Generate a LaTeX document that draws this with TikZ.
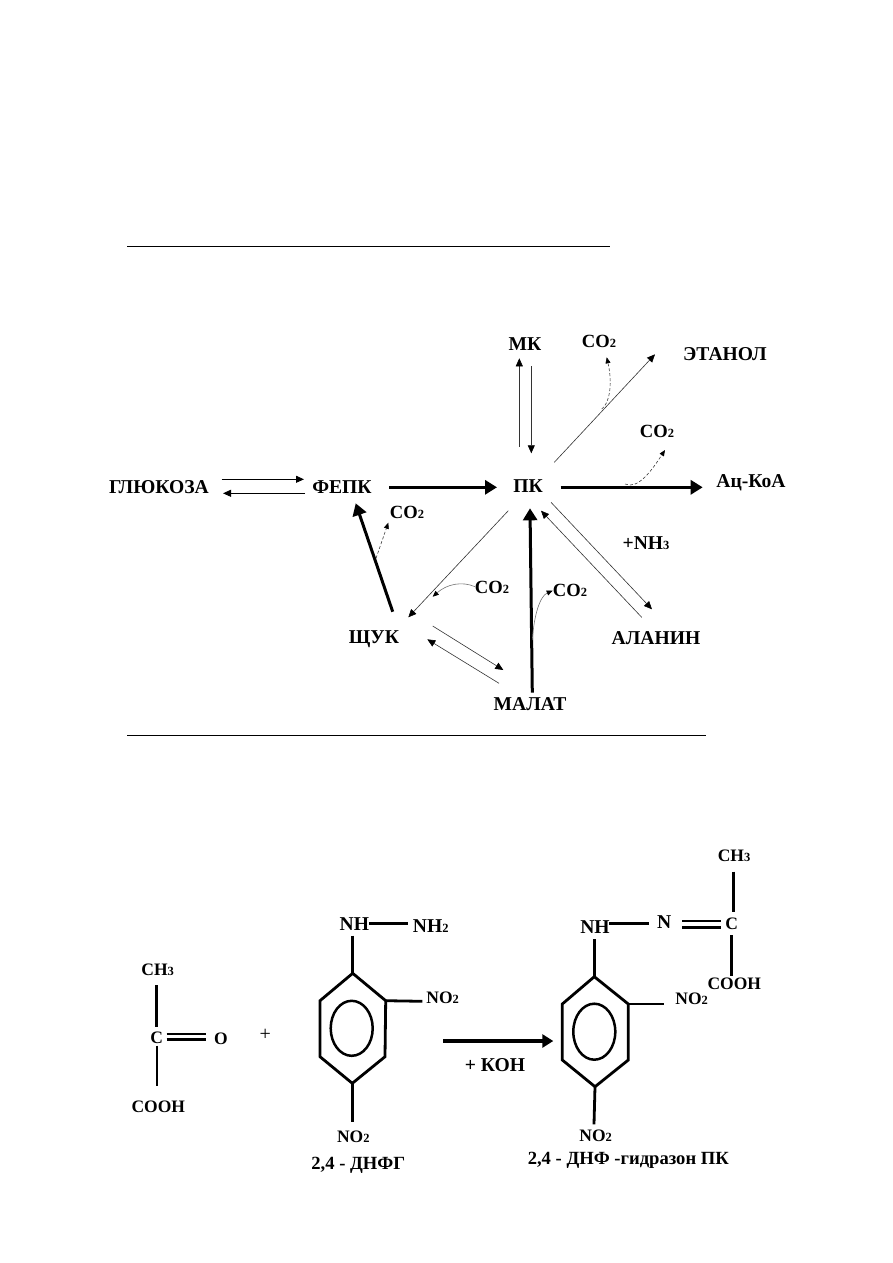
\documentclass[tikz,border=0pt]{standalone}
\usepackage{fontspec}
\setmainfont{Liberation Serif}
\usetikzlibrary{arrows.meta,shapes.geometric}
\newcommand{\smd}[1]{{\fontsize{12.5}{13}\selectfont #1}}
\tikzset{
 lab/.style={inner sep=0pt,font=\fontsize{19.6}{20}\selectfont\bfseries},
 coc/.style={inner sep=0pt,font=\fontsize{18.6}{20}\selectfont\bfseries},
 chem/.style={inner sep=0pt,font=\fontsize{17.5}{19}\selectfont\bfseries},
 thinarr/.style={line width=0.9pt,-{Triangle[length=8pt,width=7pt]}},
 hairarr/.style={line width=0.6pt,black!80,-{Triangle[length=8pt,width=7pt,color=black]}},
 thickarr/.style={line width=3pt,-{Triangle[length=12pt,width=14pt]}},
 medarr/.style={line width=3.2pt,-{Triangle[length=11pt,width=13pt]}},
 curvearr/.style={line width=0.6pt,black!75,densely dashed,-{Triangle[length=6pt,width=5pt,color=black]}},
 curvesolid/.style={line width=0.6pt,black!55,-{Triangle[length=6pt,width=5pt,color=black]}},
 bond/.style={line width=2.8pt},
 rulebar/.style={line width=1pt},
 ringline/.style={line width=2.8pt,line join=miter},
 ringoval/.style={draw,ellipse,line width=2.5pt,inner sep=0pt},
}
\begin{document}
\begin{tikzpicture}[x=1pt,y=-1pt]
\useasboundingbox (0,0) rectangle (893,1263);
% rules
\coordinate (r1a) at (127,246); \coordinate (r1b) at (610,246);
\coordinate (r2a) at (127,735); \coordinate (r2b) at (706,735);
\draw[rulebar] (r1a) -- (r1b);
\draw[rulebar] (r2a) -- (r2b);
% scheme nodes
\node[lab] (glu) at (159,487) {ГЛЮКОЗА};
\node[lab] (fepk) at (342,487) {ФЕПК};
\node[lab] (pk) at (528,486) {ПК};
\node[lab] (mk) at (525,344) {МК};
\node[lab] (etoh) at (725,354) {ЭТАНОЛ};
\node[lab] (ac) at (751,483) {Ац-КоА};
\node[lab] (ala) at (656,638) {АЛАНИН};
\node[lab] (mal) at (530,704) {МАЛАТ};
\node[lab] (shuk) at (374,639) {ЩУК};
\node[coc] (co2a) at (599,341) {CO\smd{2}};
\node[coc] (co2b) at (657,431) {CO\smd{2}};
\node[coc] (co2c) at (407,512) {CO\smd{2}};
\node[coc] (co2d) at (492,587) {CO\smd{2}};
\node[coc] (co2e) at (570,590) {CO\smd{2}};
\node[lab] (nh3) at (646,543) {+NH\smd{3}};
% scheme connectors
\draw[thinarr] ([shift={(62.7,-7.7)}]glu.center) -- ([shift={(-38,-7.7)}]fepk.center);
\draw[thinarr] ([shift={(-37,6.3)}]fepk.center) -- ([shift={(64,6.3)}]glu.center);
\draw[thickarr] ([shift={(47,0.3)}]fepk.center) -- ([shift={(-31,1.3)}]pk.center);
\draw[thickarr] ([shift={(32.7,1.3)}]pk.center) -- ([shift={(-48.3,4.3)}]ac.center);
\draw[hairarr] ([shift={(-8.7,-39.3)}]pk.center) -- ([shift={(-5.7,14.3)}]mk.center);
\draw[hairarr] ([shift={(6.3,22)}]mk.center) -- ([shift={(3.3,-32.7)}]pk.center);
\draw[hairarr] ([shift={(26.3,-23.7)}]pk.center) -- ([shift={(-70,0.3)}]etoh.center);
\draw[hairarr] ([shift={(23,16.3)}]pk.center) -- ([shift={(-4,-28.7)}]ala.center);
\draw[hairarr] ([shift={(-14.3,-20.7)}]ala.center) -- ([shift={(13,24.7)}]pk.center);
\draw[thickarr] ([shift={(2.3,-11.3)}]mal.center) -- ([shift={(2,22.3)}]pk.center);
\draw[hairarr] ([shift={(-19.7,24.7)}]pk.center) -- ([shift={(34.3,-21.7)}]shuk.center);
\draw[thickarr] ([shift={(18.7,-27.3)}]shuk.center) -- ([shift={(13.7,16.3)}]fepk.center);
\draw[hairarr] ([shift={(58.7,-13)}]shuk.center) -- ([shift={(-26.7,-34)}]mal.center);
\draw[hairarr] ([shift={(-31,-20.7)}]mal.center) -- ([shift={(53.3,0.3)}]shuk.center);
% branch curves
\coordinate (tapa) at (601.7,409);
\coordinate (tapb) at (625,484);
\coordinate (tapc) at (376,558.3);
\coordinate (tapd) at (432.7,596.7);
\coordinate (tape) at (532.3,640);
\draw[curvearr] (tapa) .. controls (609,404) and (613,385) .. ([shift={(7.7,16.3)}]co2a.center);
\draw[curvearr] (tapb) .. controls (638,490) and (652,470) .. ([shift={(8,19)}]co2b.center);
\draw[curvearr] (tapc) -- ([shift={(-18.7,10.7)}]co2c.center);
\draw[curvesolid] ([shift={(-17,-0.3)}]co2d.center) .. controls (462,581) and (447,584) .. (tapd);
\draw[curvesolid] (tape) .. controls (534,615) and (540,596) .. ([shift={(-17.3,0.7)}]co2e.center);
% left reactant
\node[chem] (ch3a) at (157.7,969.3) {CH\smd{3}};
\node[chem] (ca) at (156.7,1037.3) {C};
\node[chem] (oa) at (221,1038.7) {O};
\node[chem] (cooha) at (158.3,1106.7) {COOH};
\node[inner sep=0pt,font=\fontsize{20}{20}\selectfont] (plus) at (265.3,1035) {+};
\draw[bond] ([shift={(-1.4,16)}]ch3a.center) -- ([shift={(-0.4,-10.6)}]ca.center);
\draw[bond] ([shift={(0.3,8.4)}]ca.center) -- ([shift={(-1.3,-20.7)}]cooha.center);
\draw[bond] ([shift={(10,-3.3)}]ca.center) -- ([shift={(-15,-4.7)}]oa.center);
\draw[bond] ([shift={(10,2)}]ca.center) -- ([shift={(-15,0.6)}]oa.center);
% hydrazine
\node[lab] (nh1) at (354.3,924) {NH};
\node[lab] (nh2) at (430.7,925.7) {NH\smd{2}};
\node[chem] (no1) at (442.7,997.3) {NO\smd{2}};
\node[chem] (no2) at (353.3,1136.7) {NO\smd{2}};
\node[coc] (dnfg) at (358.3,1165) {2,4\ - ДНФГ};
\coordinate (a1) at (352.7,973.3);
\coordinate (a2) at (385.7,1000.7);
\coordinate (a3) at (385,1056.7);
\coordinate (a4) at (352.3,1083.3);
\coordinate (a5) at (320,1056.7);
\coordinate (a6) at (320,1000.7);
\draw[ringline] (a1) -- (a2) -- (a3) -- (a4) -- (a5) -- (a6) -- cycle;
\node[ringoval,minimum width=42pt,minimum height=55pt] (ringa) at (351.7,1028.3) {};
\draw[bond] ([shift={(15,-0.7)}]nh1.center) -- ([shift={(-23,-2.4)}]nh2.center);
\draw[bond] ([shift={(-1.6,11.7)}]nh1.center) -- (a1);
\draw[bond] (a2) -- ([shift={(-20.4,4)}]no1.center);
\draw[bond] (a4) -- ([shift={(-1,-15)}]no2.center);
% arrow
\node[lab] (koh) at (495,1065) {+\ КОН};
\node[chem] (no3) at (691.7,998.3) {NO\smd{2}};
\coordinate (b1) at (594.3,976.7);
\coordinate (b2) at (628.3,1004);
\coordinate (b3) at (628.3,1060);
\coordinate (b4) at (595,1086.7);
\coordinate (b5) at (562.3,1060);
\coordinate (b6) at (562.3,1004);
\coordinate (ra) at (443.3,1041);
\coordinate (rb) at (553.3,1041);
\draw[medarr] (ra) -- (rb);
% hydrazone
\node[chem] (ch3b) at (734,855.7) {CH\smd{3}};
\node[chem] (cb) at (731.7,924) {C};
\node[lab] (nb) at (664.3,921.7) {N};
\node[lab] (nh3b) at (595,926.7) {NH};
\node[chem] (coohb) at (734.3,983.3) {COOH};
\node[chem] (no4) at (595.7,1136) {NO\smd{2}};
\node[coc] (dnfh) at (628.3,1160.7) {2,4\ - ДНФ\ -гидразон ПК};
\draw[ringline] (b1) -- (b2) -- (b3) -- (b4) -- (b5) -- (b6) -- cycle;
\node[ringoval,minimum width=42pt,minimum height=56pt] (ringb) at (594.3,1031.7) {};
\draw[bond] ([shift={(14.3,-3.4)}]nh3b.center) -- ([shift={(-15,1.6)}]nb.center);
\draw[bond] ([shift={(-0.7,12.3)}]nh3b.center) -- (b1);
\draw[bond] ([shift={(-0.7,16)}]ch3b.center) -- ([shift={(1.6,-12.3)}]cb.center);
\draw[bond] ([shift={(0,11)}]cb.center) -- ([shift={(-2.6,-7.3)}]coohb.center);
\draw[bond] ([shift={(18,-0.7)}]nb.center) -- ([shift={(-10.7,-3)}]cb.center);
\draw[bond] ([shift={(18,6)}]nb.center) -- ([shift={(-10.7,3.7)}]cb.center);
\draw[bond] (b2) -- ([shift={(-27.4,5.7)}]no3.center);
\draw[bond] (b4) -- ([shift={(-1.7,-11.7)}]no4.center);
\end{tikzpicture}
\end{document}
